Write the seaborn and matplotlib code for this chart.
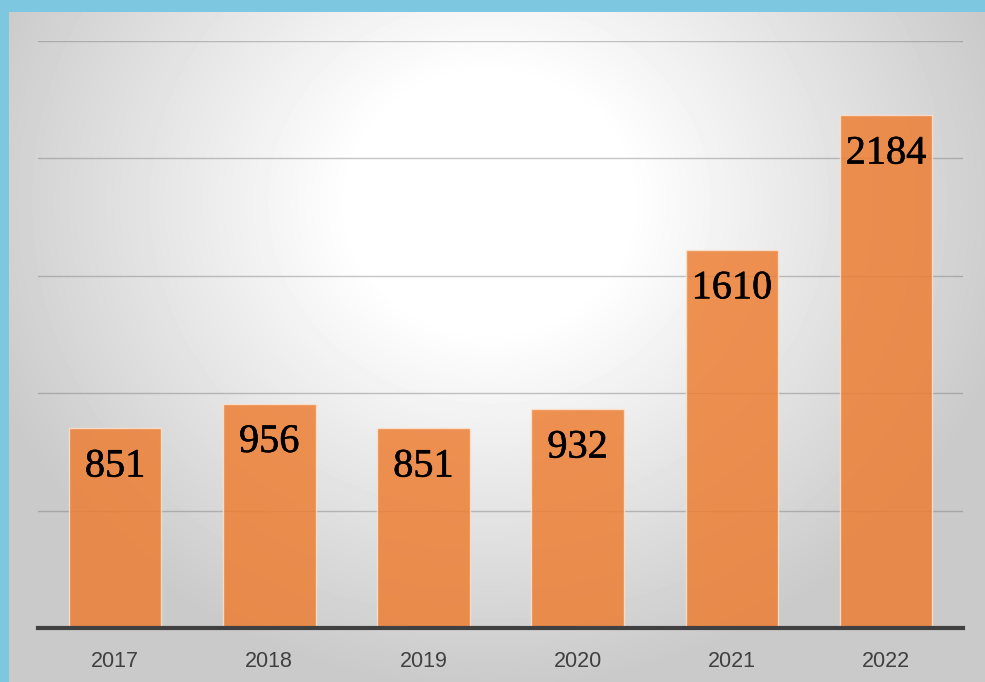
import numpy as np
import pandas as pd
import seaborn as sns
import matplotlib.pyplot as plt
import matplotlib.patheffects as pe

years = ["2017", "2018", "2019", "2020", "2021", "2022"]
counts = [851, 956, 851, 932, 1610, 2184]

df = pd.DataFrame({"year": years, "count": counts})

W, H = 985, 682
fig = plt.figure(figsize=(W / 100, H / 100), dpi=100)
fig.patch.set_facecolor("#7EC7E0")

# radial grey gradient backdrop inside the blue frame (white plateau in the middle)
bg = fig.add_axes([9 / W, 0, 1 - 9 / W, 1 - 12 / H])
yy, xx = np.mgrid[0:670, 0:976]
d = np.sqrt((xx - 480) ** 2 + ((yy - 190) * 1.1) ** 2)
shade = 1.0 - 0.18 * np.clip((d - 140) / 340, 0, None)
shade = np.clip(shade, 0.79, 1.0)
bg.imshow(shade, cmap="gray", vmin=0, vmax=1, aspect="auto", interpolation="bilinear")
bg.axis("off")

ax = fig.add_axes([38 / W, 54 / H, (963 - 38) / W, (628 - 41) / H])
ax.patch.set_alpha(0)

sns.barplot(data=df, x="year", y="count", color="#ED7D31", alpha=0.84, saturation=1,
            width=0.6, edgecolor="#FBE3D3", linewidth=1, ax=ax, zorder=3)

ax.set_ylim(0, 2500)
ax.set_xlim(-0.5, 5.5)
ax.set_yticks([500, 1000, 1500, 2000, 2500])
ax.yaxis.grid(True, color="#707070", alpha=0.4, linewidth=1, zorder=2)
ax.set_axisbelow(True)
ax.tick_params(axis="y", left=False, labelleft=False)
ax.tick_params(axis="x", bottom=False, labelsize=15.5, labelcolor="#404040", pad=13)
for lbl in ax.get_xticklabels():
    lbl.set_fontfamily("Liberation Sans")
ax.set_xlabel("")
ax.set_ylabel("")
for s in ["top", "right", "left"]:
    ax.spines[s].set_visible(False)
ax.spines["bottom"].set_color("#404040")
ax.spines["bottom"].set_linewidth(3)
ax.spines["bottom"].set_zorder(5)

for i, v in enumerate(counts):
    ax.annotate(str(v), (i, v), xytext=(0, -28), textcoords="offset points",
                ha="center", va="center", fontsize=29, family="Liberation Serif",
                color="black", zorder=6,
                path_effects=[pe.withStroke(linewidth=0.4, foreground="black")])

fig.savefig("out.png", dpi=100)
